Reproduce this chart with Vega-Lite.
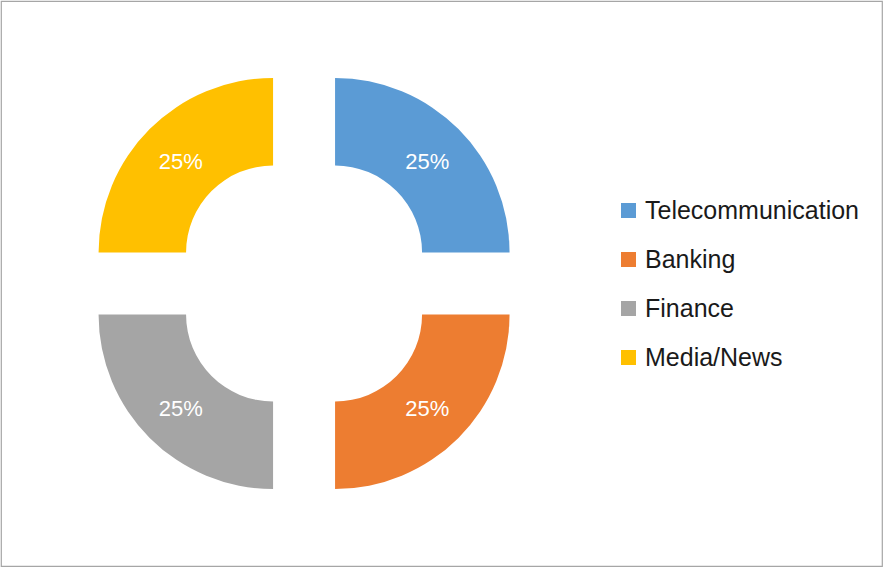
{
  "$schema": "https://vega.github.io/schema/vega-lite/v6.json",
  "width": 881,
  "height": 565,
  "autosize": "none",
  "padding": {"left": 1, "top": 1, "right": 1, "bottom": 2},
  "background": "white",
  "view": {"stroke": "#A6A6A6", "strokeWidth": 1.2, "fill": "white"},
  "config": {
    "view": {"stroke": "#A6A6A6", "strokeWidth": 1.2},
    "font": "Liberation Sans",
    "legend": {
      "orient": "none",
      "legendX": 615,
      "legendY": 197,
      "padding": 0,
      "symbolType": "square",
      "symbolSize": 225,
      "symbolStrokeWidth": 0,
      "symbolOpacity": 1,
      "labelFont": "Liberation Sans",
      "labelFontSize": 25,
      "labelColor": "#1a1a1a",
      "labelOffset": 4,
      "rowPadding": 23,
      "labelLimit": 400
    }
  },
  "data": {
    "values": [
      {"sector": "Telecommunication", "share": 0.25, "order": 1},
      {"sector": "Banking", "share": 0.25, "order": 2},
      {"sector": "Finance", "share": 0.25, "order": 3},
      {"sector": "Media/News", "share": 0.25, "order": 4}
    ]
  },
  "transform": [
    {"stack": "share", "groupby": [], "sort": [{"field": "order", "order": "ascending"}], "as": ["v0", "v1"]}
  ],
  "encoding": {
    "theta": {"field": "v0", "type": "quantitative", "scale": {"domain": [0, 1]}}
  },
  "layer": [
    {
      "transform": [{"filter": "datum.sector === 'Telecommunication'"}],
      "layer": [
        {
          "mark": {"type": "arc", "radius": 174.5, "radius2": 87, "x": {"expr": "width*0.344"}, "xOffset": 31, "yOffset": -31},
          "encoding": {
            "theta2": {"field": "v1"},
            "color": {"field": "sector", "type": "nominal", "title": null,
              "scale": {"domain": ["Telecommunication", "Banking", "Finance", "Media/News"], "range": ["#5B9BD5", "#ED7D31", "#A5A5A5", "#FFC000"]}}
          }
        },
        {
          "mark": {"type": "text", "radius": 130.5, "thetaOffset": 0.7854, "x": {"expr": "width*0.344"}, "xOffset": 31, "yOffset": -29, "color": "white", "fontSize": 22, "font": "Liberation Sans"},
          "encoding": {"text": {"field": "share", "type": "quantitative", "format": ".0%"}}
        }
      ]
    },
    {
      "transform": [{"filter": "datum.sector === 'Banking'"}],
      "layer": [
        {
          "mark": {"type": "arc", "radius": 174.5, "radius2": 87, "x": {"expr": "width*0.344"}, "xOffset": 31, "yOffset": 31},
          "encoding": {
            "theta2": {"field": "v1"},
            "color": {"field": "sector", "type": "nominal", "title": null,
              "scale": {"domain": ["Telecommunication", "Banking", "Finance", "Media/News"], "range": ["#5B9BD5", "#ED7D31", "#A5A5A5", "#FFC000"]}}
          }
        },
        {
          "mark": {"type": "text", "radius": 130.5, "thetaOffset": 0.7854, "x": {"expr": "width*0.344"}, "xOffset": 31, "yOffset": 33, "color": "white", "fontSize": 22, "font": "Liberation Sans"},
          "encoding": {"text": {"field": "share", "type": "quantitative", "format": ".0%"}}
        }
      ]
    },
    {
      "transform": [{"filter": "datum.sector === 'Finance'"}],
      "layer": [
        {
          "mark": {"type": "arc", "radius": 174.5, "radius2": 87, "x": {"expr": "width*0.344"}, "xOffset": -31, "yOffset": 31},
          "encoding": {
            "theta2": {"field": "v1"},
            "color": {"field": "sector", "type": "nominal", "title": null,
              "scale": {"domain": ["Telecommunication", "Banking", "Finance", "Media/News"], "range": ["#5B9BD5", "#ED7D31", "#A5A5A5", "#FFC000"]}}
          }
        },
        {
          "mark": {"type": "text", "radius": 130.5, "thetaOffset": 0.7854, "x": {"expr": "width*0.344"}, "xOffset": -31, "yOffset": 33, "color": "white", "fontSize": 22, "font": "Liberation Sans"},
          "encoding": {"text": {"field": "share", "type": "quantitative", "format": ".0%"}}
        }
      ]
    },
    {
      "transform": [{"filter": "datum.sector === 'Media/News'"}],
      "layer": [
        {
          "mark": {"type": "arc", "radius": 174.5, "radius2": 87, "x": {"expr": "width*0.344"}, "xOffset": -31, "yOffset": -31},
          "encoding": {
            "theta2": {"field": "v1"},
            "color": {"field": "sector", "type": "nominal", "title": null,
              "scale": {"domain": ["Telecommunication", "Banking", "Finance", "Media/News"], "range": ["#5B9BD5", "#ED7D31", "#A5A5A5", "#FFC000"]}}
          }
        },
        {
          "mark": {"type": "text", "radius": 130.5, "thetaOffset": 0.7854, "x": {"expr": "width*0.344"}, "xOffset": -31, "yOffset": -29, "color": "white", "fontSize": 22, "font": "Liberation Sans"},
          "encoding": {"text": {"field": "share", "type": "quantitative", "format": ".0%"}}
        }
      ]
    }
  ]
}
